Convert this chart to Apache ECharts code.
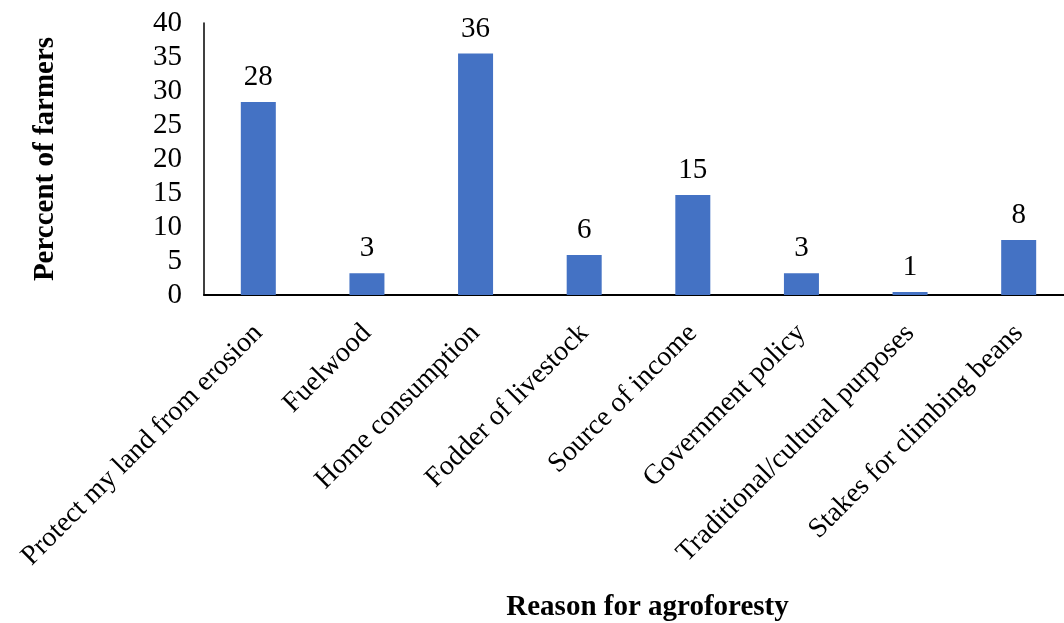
<!DOCTYPE html>
<html>
<head>
<meta charset="utf-8">
<script src="https://cdn.jsdelivr.net/npm/echarts@6/dist/echarts.min.js"></script>
<style>
  html, body { margin: 0; padding: 0; background: #fff; }
  #main { width: 1064px; height: 623px; }
</style>
</head>
<body>
<div id="main"></div>
<script>
// data
var reasons = ['Protect my land from erosion', 'Fuelwood', 'Home consumption', 'Fodder of livestock',
               'Source of income', 'Government policy', 'Traditional/cultural purposes', 'Stakes for climbing beans'];
var percents = [28.4, 3.2, 35.5, 5.9, 14.7, 3.2, 0.45, 8.1];
var shownLabels = [28, 3, 36, 6, 15, 3, 1, 8];

var font = '"Liberation Serif", "Times New Roman", serif';

var myChart = echarts.init(document.getElementById('main'));
var option = {
    backgroundColor: '#ffffff',
    animation: false,
    grid: { left: 204, right: -9, top: 23, bottom: 328, outerBoundsMode: 'none', containLabel: false },
    xAxis: {
        type: 'category',
        data: reasons,
        name: 'Reason for agroforesty',
        nameLocation: 'middle',
        nameGap: 298,
        nameTextStyle: { fontFamily: font, fontSize: 29, fontWeight: 'bold', color: '#000', padding: [0, 0, 0, 18] },
        axisLine: { lineStyle: { color: '#000', width: 2 } },
        axisTick: { show: false },
        axisLabel: { rotate: 45, interval: 0, margin: 34, fontFamily: font, fontSize: 28, color: '#000' }
    },
    yAxis: {
        type: 'value',
        min: 0, max: 40, interval: 5,
        name: 'Perccent of farmers',
        nameLocation: 'middle',
        nameGap: 144,
        nameTextStyle: { fontFamily: font, fontSize: 29, fontWeight: 'bold', color: '#000' },
        axisLine: { show: true, lineStyle: { color: '#000', width: 1.5 } },
        axisTick: { show: false },
        splitLine: { show: false },
        axisLabel: { margin: 22, fontFamily: font, fontSize: 29, color: '#000' }
    },
    series: [{
        type: 'bar',
        data: percents,
        barWidth: 35,
        itemStyle: { color: '#4472C4' },
        label: {
            show: true,
            position: 'top',
            distance: 10,
            fontFamily: font,
            fontSize: 29,
            color: '#000',
            formatter: function (p) { return shownLabels[p.dataIndex]; }
        }
    }]
};
myChart.setOption(option);
</script>
</body>
</html>
